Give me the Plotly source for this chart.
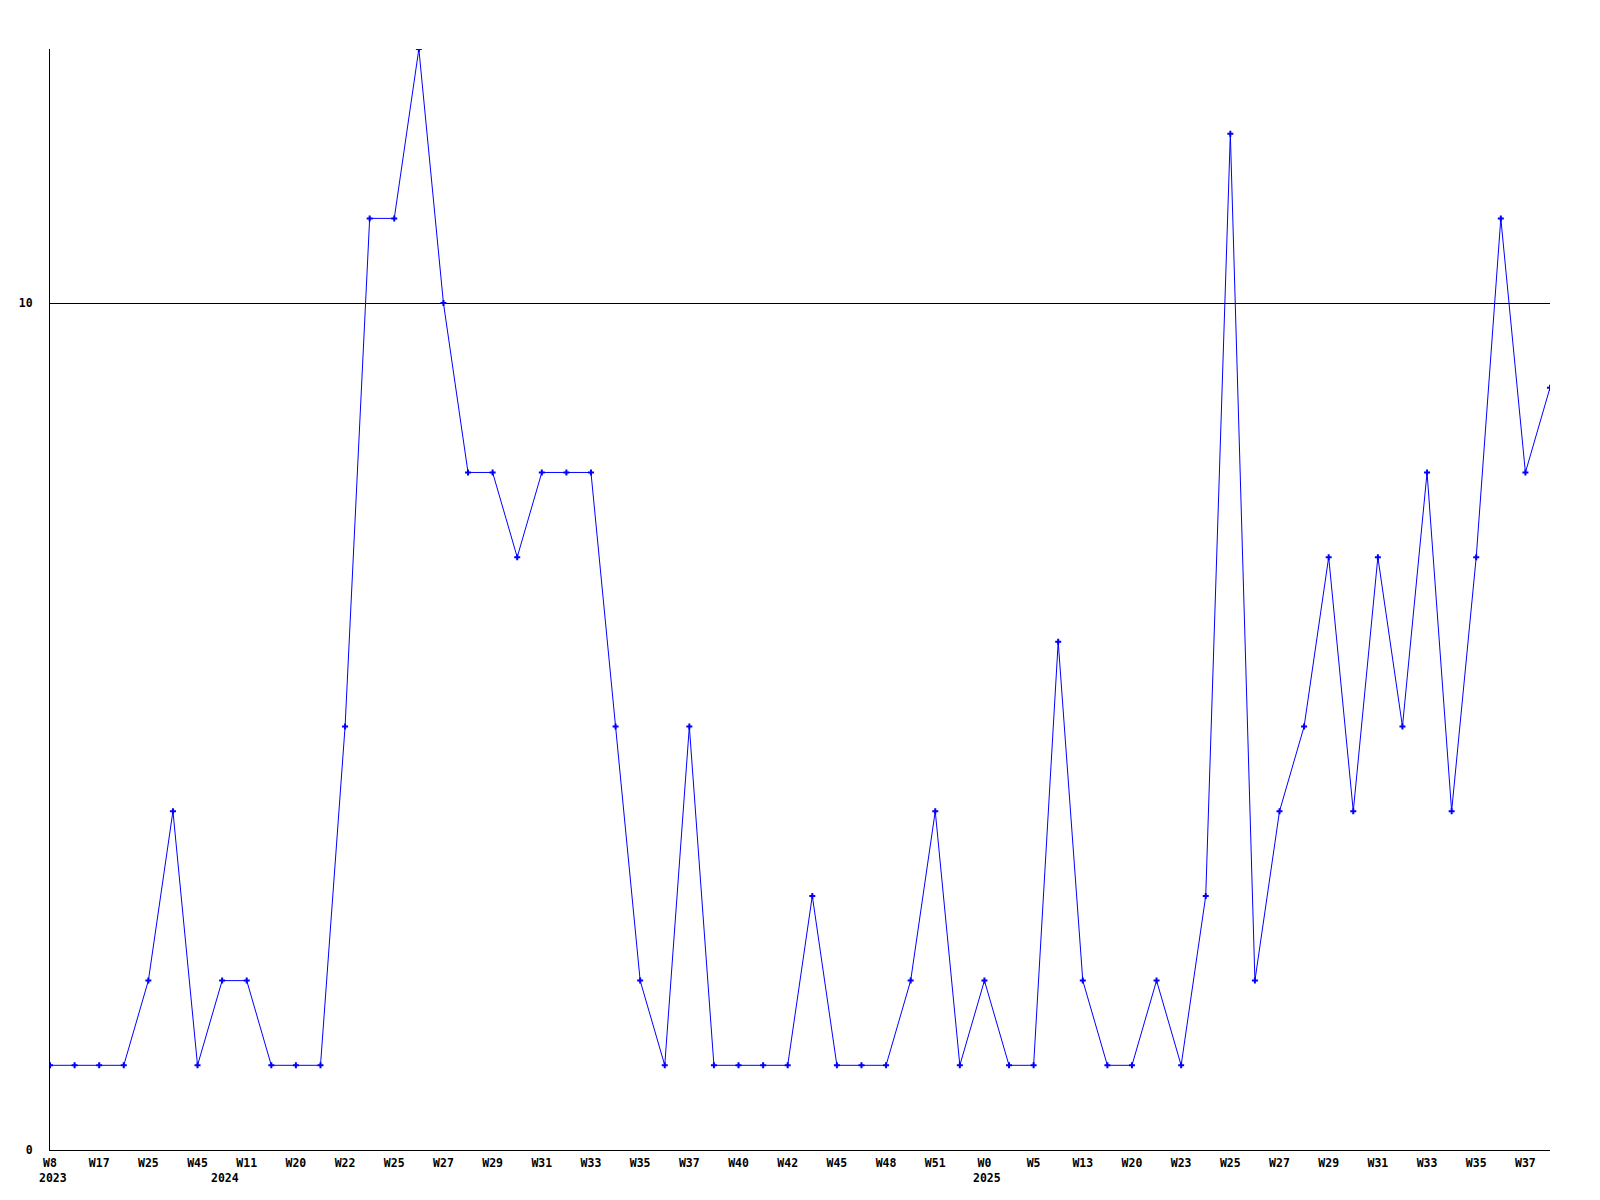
import plotly.graph_objects as go

values = [1, 1, 1, 1, 2, 4, 1, 2, 2, 1, 1, 1, 5, 11, 11, 13, 10, 8, 8, 7,
          8, 8, 8, 5, 2, 1, 5, 1, 1, 1, 1, 3, 1, 1, 1, 2, 4, 1, 2, 1,
          1, 6, 2, 1, 1, 2, 1, 3, 12, 2, 4, 5, 7, 4, 7, 5, 8, 4, 7, 11,
          8, 9]
tick_labels = ["W8", "W17", "W25", "W45", "W11", "W20", "W22", "W25", "W27", "W29",
               "W31", "W33", "W35", "W37", "W40", "W42", "W45", "W48", "W51", "W0",
               "W5", "W13", "W20", "W23", "W25", "W27", "W29", "W31", "W33", "W35",
               "W37"]
year_labels = ["2023", "2024", "2025"]
year_positions = [0, 7, 38]
y_ticks = [0, 10]

x = list(range(len(values)))
tick_vals = list(range(0, 2 * len(tick_labels), 2))

FONT = dict(family="DejaVu Sans Mono", size=11.5, color="black")

fig = go.Figure()
fig.add_trace(go.Scatter(
    x=x, y=values, mode="lines+markers",
    line=dict(color="#0000ff", width=1),
    marker=dict(symbol="cross", size=5, color="#0000ff", line=dict(width=0)),
    showlegend=False, hoverinfo="skip",
))

for label, pos in zip(year_labels, year_positions):
    fig.add_annotation(x=pos, y=0, xref="x", yref="y", text="<b>" + label + "</b>",
                       showarrow=False, yanchor="top", xanchor="center",
                       yshift=-19, xshift=3, font=FONT)

# page body has an 8px default margin; compensate so the plot area sits at 50..1550 x 49..1150
fig.update_layout(
    width=1600, height=1200,
    margin=dict(l=42, r=58, t=41, b=58),
    paper_bgcolor="white", plot_bgcolor="white",
    font=FONT,
)
fig.update_xaxes(
    range=[0, len(values) - 1],
    tickvals=tick_vals, ticktext=["<b>" + t + "</b>" for t in tick_labels],
    showgrid=False, zeroline=False,
    showline=True, linecolor="black", linewidth=1,
    ticks="", tickfont=FONT, ticklabelstandoff=2,
)
fig.update_yaxes(
    range=[0, 13],
    tickvals=y_ticks, ticktext=["<b>" + str(v) + "</b>" for v in y_ticks],
    showgrid=True, gridcolor="black", gridwidth=1,
    zeroline=False,
    showline=True, linecolor="black", linewidth=1,
    ticks="", tickfont=FONT, ticklabelstandoff=14,
)

fig.write_html("out.html")
